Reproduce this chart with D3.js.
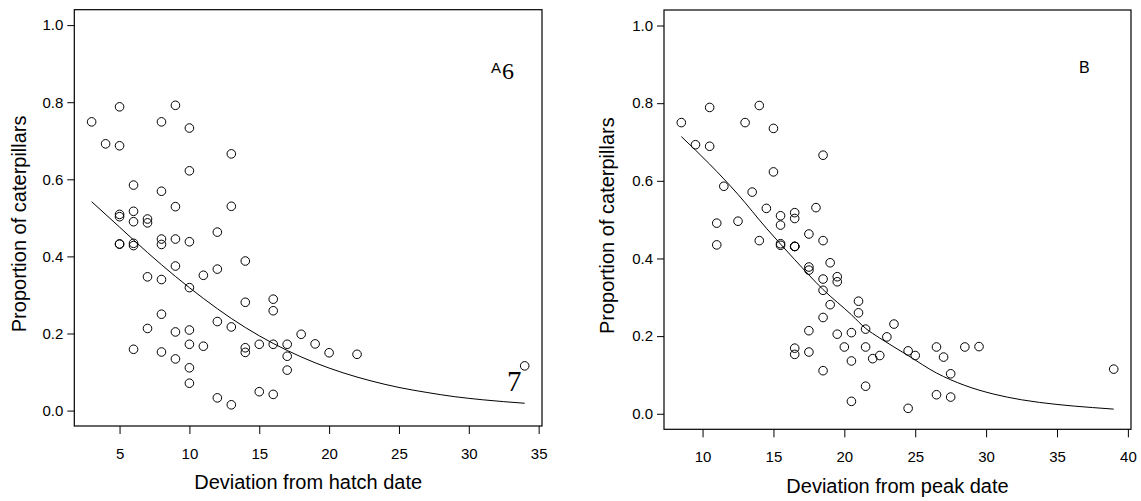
<!DOCTYPE html>
<html>
<head>
<meta charset="utf-8">
<script src="https://cdn.jsdelivr.net/npm/d3@7"></script>
<style>
  body { margin: 0; background: #fff; }
  svg { display: block; }
  text { font-family: "Liberation Sans", Arial, Helvetica, sans-serif; fill: #000; }
</style>
</head>
<body>
<div id="display"></div>
<script>
// panel A: deviation from hatch date
var hatchDev = [3, 4, 5, 5, 5, 5, 5, 5, 6, 6, 6, 6, 6, 6, 7, 7, 7, 7,
  8, 8, 8, 8, 8, 8, 8, 9, 9, 9, 9, 9, 9, 10, 10, 10, 10, 10, 10, 10, 10,
  11, 11, 12, 12, 12, 12, 13, 13, 13, 13, 14, 14, 14, 14, 15, 15,
  16, 16, 16, 16, 17, 17, 17, 18, 19, 20, 22, 34]
var hatchProp = [0.749, 0.692, 0.788, 0.687, 0.509, 0.503, 0.432, 0.432, 0.585, 0.517, 0.490, 0.434, 0.428, 0.159, 0.497, 0.487, 0.347, 0.213,
  0.749, 0.569, 0.445, 0.431, 0.340, 0.250, 0.152, 0.792, 0.529, 0.445, 0.375, 0.204, 0.134, 0.733, 0.622, 0.438, 0.319, 0.209, 0.172, 0.111, 0.071,
  0.351, 0.167, 0.463, 0.367, 0.231, 0.033, 0.666, 0.530, 0.217, 0.015, 0.388, 0.281, 0.163, 0.151, 0.172, 0.049,
  0.289, 0.259, 0.172, 0.042, 0.172, 0.141, 0.105, 0.198, 0.173, 0.150, 0.146, 0.116]
var hatchFitX = [3, 5, 7, 9, 11, 13, 15, 17, 19, 21, 23, 25, 27, 29, 31, 34]
var hatchFitY = [0.542, 0.476, 0.410, 0.348, 0.291, 0.239, 0.194, 0.156, 0.124, 0.098, 0.077, 0.060, 0.047, 0.036, 0.028, 0.019]

// panel B: deviation from peak date
var peakDev = [8.5, 9.5, 10.5, 10.5, 11, 11, 11.5, 12.5, 13, 13.5, 14, 14, 14.5, 15, 15,
  15.5, 15.5, 15.5, 15.5, 16.5, 16.5, 16.5, 16.5, 16.5, 16.5, 16.5,
  17.5, 17.5, 17.5, 17.5, 17.5, 18, 18.5, 18.5, 18.5, 18.5, 18.5, 18.5,
  19, 19, 19.5, 19.5, 19.5, 20, 20.5, 20.5, 20.5, 21, 21, 21.5, 21.5, 21.5,
  22, 22.5, 23, 23.5, 24.5, 24.5, 25, 26.5, 26.5, 27, 27.5, 27.5, 28.5, 29.5, 39]
var peakProp = [0.750, 0.693, 0.789, 0.689, 0.491, 0.435, 0.586, 0.496, 0.750, 0.571, 0.794, 0.446, 0.529, 0.735, 0.623,
  0.510, 0.486, 0.438, 0.434, 0.518, 0.503, 0.431, 0.431, 0.431, 0.169, 0.153,
  0.463, 0.378, 0.370, 0.214, 0.159, 0.531, 0.666, 0.446, 0.347, 0.318, 0.248, 0.111,
  0.389, 0.281, 0.353, 0.340, 0.205, 0.172, 0.209, 0.136, 0.032, 0.290, 0.260, 0.218, 0.172, 0.071,
  0.142, 0.150, 0.198, 0.231, 0.162, 0.014, 0.150, 0.172, 0.049, 0.146, 0.103, 0.043, 0.172, 0.173, 0.115]
var peakFitX = [8.5, 10.5, 12.5, 14.5, 15.5, 16.5, 18.5, 20.5, 21.5, 22.5, 24.5, 26.5, 28.5, 30.5, 32.5, 35, 37.5, 39]
var peakFitY = [0.714, 0.643, 0.565, 0.478, 0.437, 0.397, 0.320, 0.255, 0.220, 0.195, 0.150, 0.105, 0.073, 0.051, 0.036, 0.024, 0.016, 0.012]

var yTicks = [0, 0.2, 0.4, 0.6, 0.8, 1.0]
var hatchTicks = [5, 10, 15, 20, 25, 30, 35]
var peakTicks = [10, 15, 20, 25, 30, 35, 40]

var width = 1141, height = 501;

var svg = d3.select("#display")
    .append("svg")
    .attr("width", width)
    .attr("height", height);

function panel(opt) {
  var x = d3.scaleLinear().domain(opt.xDomain).range([opt.left, opt.right]);
  var y = d3.scaleLinear().domain([-0.04, 1.04]).range([opt.bottom, opt.top]);

  var g = svg.append("g");

  g.append("rect")
      .attr("x", opt.left)
      .attr("y", opt.top)
      .attr("width", opt.right - opt.left)
      .attr("height", opt.bottom - opt.top)
      .attr("fill", "none")
      .attr("stroke", "#000")
      .attr("stroke-width", 1.2);

  var xAxis = g.append("g")
      .attr("transform", "translate(0," + opt.bottom + ")")
      .call(d3.axisBottom(x).tickValues(opt.xTicks).tickSize(8).tickPadding(14).tickSizeOuter(0));
  xAxis.select(".domain").remove();

  var yAxis = g.append("g")
      .attr("transform", "translate(" + opt.left + ",0)")
      .call(d3.axisLeft(y).tickValues(yTicks).tickFormat(d3.format(".1f")).tickSize(7).tickPadding(4).tickSizeOuter(0));
  yAxis.select(".domain").remove();

  g.selectAll(".tick text")
      .style("font-family", "'Liberation Sans', Arial, sans-serif")
      .style("font-size", "15px")
      .attr("fill", "#000");
  g.selectAll(".tick line").attr("stroke", "#000");

  g.append("path")
      .datum(opt.fitX)
      .attr("fill", "none")
      .attr("stroke", "#000")
      .attr("stroke-width", 1)
      .attr("d", d3.line()
        .x(d => x(d))
        .y((d, i) => y(opt.fitY[i]))
        .curve(d3.curveMonotoneX));

  g.append("g")
    .selectAll("circle")
    .data(opt.xs)
    .join("circle")
      .attr("cx", d => x(d))
      .attr("cy", (d, i) => y(opt.ys[i]))
      .attr("r", 4.3)
      .attr("fill", "none")
      .attr("stroke", "#000")
      .attr("stroke-width", 1);

  g.append("text")
      .attr("x", (opt.left + opt.right) / 2)
      .attr("y", opt.xTitleY)
      .attr("text-anchor", "middle")
      .style("font-size", "20px")
      .text(opt.xTitle);

  g.append("text")
      .attr("transform", "translate(" + opt.yTitleX + "," + ((opt.top + opt.bottom) / 2 + 6) + ") rotate(-90)")
      .attr("text-anchor", "middle")
      .attr("dy", "0.35em")
      .style("font-size", "20px")
      .text("Proportion of caterpillars");

  return g;
}

var a = panel({
  left: 74.3, right: 542, top: 9.7, bottom: 426,
  xDomain: [1.76, 35.24], xTicks: hatchTicks,
  xs: hatchDev, ys: hatchProp, fitX: hatchFitX, fitY: hatchFitY,
  xTitle: "Deviation from hatch date", xTitleY: 489, yTitleX: 19
});

var b = panel({
  left: 664, right: 1131, top: 10, bottom: 429.3,
  xDomain: [7.28, 40.22], xTicks: peakTicks,
  xs: peakDev, ys: peakProp, fitX: peakFitX, fitY: peakFitY,
  xTitle: "Deviation from peak date", xTitleY: 493, yTitleX: 607
});

// panel letters (and the stray serif digits of the original)
a.append("text").attr("x", 491).attr("y", 73).style("font-size", "15px").text("A");
a.append("text").attr("x", 502).attr("y", 79)
    .style("font-family", "'Liberation Serif', 'DejaVu Serif', serif")
    .style("font-size", "24px").text("6");
a.append("text").attr("x", 507).attr("y", 391)
    .style("font-family", "'Liberation Serif', 'DejaVu Serif', serif")
    .style("font-size", "29px").text("7");
b.append("text").attr("x", 1079).attr("y", 73).style("font-size", "16px").text("B");
</script>
</body>
</html>
